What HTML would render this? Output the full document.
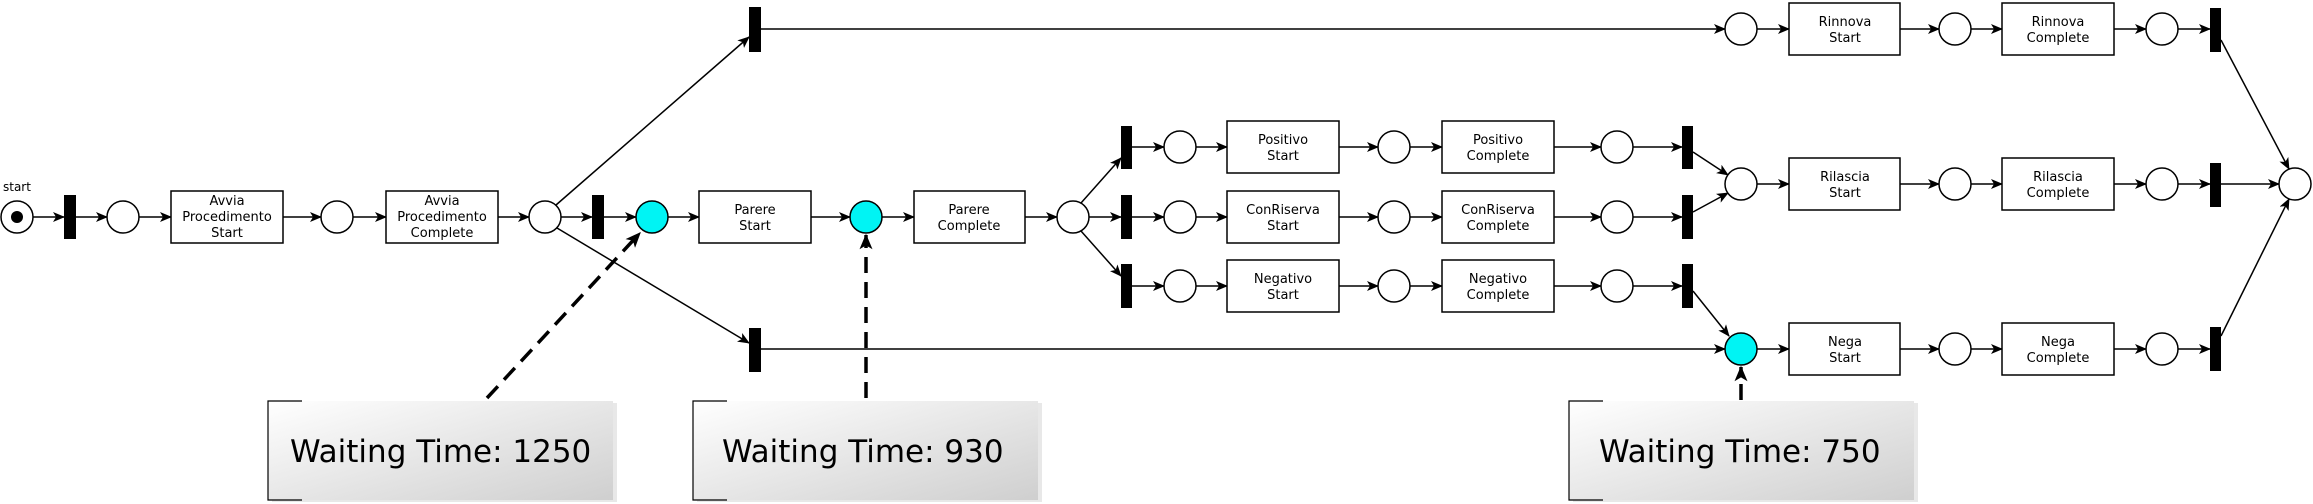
<!DOCTYPE html>
<html><head><meta charset="utf-8"><style>
html,body{margin:0;padding:0;background:#fff;}
svg{display:block;}
text{font-family:"DejaVu Sans","Liberation Sans",sans-serif;}
.b text{font-size:13px;text-anchor:middle;}
</style></head><body>
<svg width="2313" height="504" viewBox="0 0 2313 504" xmlns="http://www.w3.org/2000/svg">
<defs>
<marker id="a" viewBox="0 0 12 10" refX="11" refY="5" markerWidth="12" markerHeight="10" markerUnits="userSpaceOnUse" orient="auto">
<path d="M0,0 L12,5 L0,10 L3,5 Z" fill="#000"/></marker>
<marker id="a2" viewBox="0 0 12 10" refX="11" refY="5" markerWidth="16" markerHeight="13" markerUnits="userSpaceOnUse" orient="auto">
<path d="M0,0 L12,5 L0,10 L3,5 Z" fill="#000"/></marker>
<linearGradient id="g" x1="0" y1="0" x2="1" y2="1">
<stop offset="0" stop-color="#ffffff"/><stop offset="1" stop-color="#cfcfcf"/></linearGradient>
</defs>
<g stroke="#000" stroke-width="1.5" fill="none" marker-end="url(#a)">
<!-- main row -->
<line x1="33" y1="217" x2="64" y2="217"/>
<line x1="76" y1="217" x2="107" y2="217"/>
<line x1="139" y1="217" x2="171" y2="217"/>
<line x1="283" y1="217" x2="321" y2="217"/>
<line x1="353" y1="217" x2="386" y2="217"/>
<line x1="498" y1="217" x2="529" y2="217"/>
<line x1="561" y1="217" x2="592" y2="217"/>
<line x1="604" y1="217" x2="636" y2="217"/>
<line x1="668" y1="217" x2="699" y2="217"/>
<line x1="811" y1="217" x2="850" y2="217"/>
<line x1="882" y1="217" x2="914" y2="217"/>
<line x1="1025" y1="217" x2="1057" y2="217"/>
<!-- branches -->
<line x1="556" y1="205" x2="749" y2="37"/>
<line x1="557" y1="228" x2="749" y2="343"/>
<line x1="1081" y1="203" x2="1121" y2="158"/>
<line x1="1089" y1="217" x2="1121" y2="217"/>
<line x1="1081" y1="231" x2="1121" y2="276"/>
<line x1="761" y1="29" x2="1725" y2="29"/>
<line x1="761" y1="349" x2="1725" y2="349"/>
</g>
<g stroke="#000" stroke-width="1.5" fill="none" marker-end="url(#a)">
<!-- three rows -->
<line x1="1132" y1="147" x2="1164" y2="147"/><line x1="1196" y1="147" x2="1227" y2="147"/><line x1="1339" y1="147" x2="1378" y2="147"/><line x1="1410" y1="147" x2="1442" y2="147"/><line x1="1554" y1="147" x2="1601" y2="147"/><line x1="1633" y1="147" x2="1682" y2="147"/>
<line x1="1132" y1="217" x2="1164" y2="217"/><line x1="1196" y1="217" x2="1227" y2="217"/><line x1="1339" y1="217" x2="1378" y2="217"/><line x1="1410" y1="217" x2="1442" y2="217"/><line x1="1554" y1="217" x2="1601" y2="217"/><line x1="1633" y1="217" x2="1682" y2="217"/>
<line x1="1132" y1="286" x2="1164" y2="286"/><line x1="1196" y1="286" x2="1227" y2="286"/><line x1="1339" y1="286" x2="1378" y2="286"/><line x1="1410" y1="286" x2="1442" y2="286"/><line x1="1554" y1="286" x2="1601" y2="286"/><line x1="1633" y1="286" x2="1682" y2="286"/>
<line x1="1693" y1="152" x2="1728" y2="175"/>
<line x1="1693" y1="212" x2="1728" y2="193"/>
<line x1="1693" y1="291" x2="1729" y2="336"/>
<!-- right rows -->
<line x1="1757" y1="29" x2="1789" y2="29"/><line x1="1900" y1="29" x2="1939" y2="29"/><line x1="1971" y1="29" x2="2002" y2="29"/><line x1="2114" y1="29" x2="2146" y2="29"/><line x1="2178" y1="29" x2="2210" y2="29"/>
<line x1="1757" y1="184" x2="1789" y2="184"/><line x1="1900" y1="184" x2="1939" y2="184"/><line x1="1971" y1="184" x2="2002" y2="184"/><line x1="2114" y1="184" x2="2146" y2="184"/><line x1="2178" y1="184" x2="2210" y2="184"/>
<line x1="1757" y1="349" x2="1789" y2="349"/><line x1="1900" y1="349" x2="1939" y2="349"/><line x1="1971" y1="349" x2="2002" y2="349"/><line x1="2114" y1="349" x2="2146" y2="349"/><line x1="2178" y1="349" x2="2210" y2="349"/>
<line x1="2221" y1="40" x2="2289" y2="169"/>
<line x1="2221" y1="184" x2="2279" y2="184"/>
<line x1="2221" y1="336" x2="2289" y2="199"/>
</g>
<!-- dashed arrows -->
<g stroke="#000" stroke-width="3.5" fill="none" stroke-dasharray="16,9" marker-end="url(#a2)">
<line x1="487" y1="398" x2="640" y2="233"/>
<line x1="866" y1="398" x2="866" y2="235"/>
<line x1="1741" y1="400" x2="1741" y2="367"/>
</g>
<!-- places -->
<g stroke="#000" stroke-width="1.5" fill="#fff">
<circle cx="17" cy="217" r="16"/>
<circle cx="123" cy="217" r="16"/><circle cx="337" cy="217" r="16"/><circle cx="545" cy="217" r="16"/>
<circle cx="1073" cy="217" r="16"/>
<circle cx="1180" cy="147" r="16"/><circle cx="1180" cy="217" r="16"/><circle cx="1180" cy="286" r="16"/>
<circle cx="1394" cy="147" r="16"/><circle cx="1394" cy="217" r="16"/><circle cx="1394" cy="286" r="16"/>
<circle cx="1617" cy="147" r="16"/><circle cx="1617" cy="217" r="16"/><circle cx="1617" cy="286" r="16"/>
<circle cx="1741" cy="29" r="16"/><circle cx="1955" cy="29" r="16"/><circle cx="2162" cy="29" r="16"/>
<circle cx="1741" cy="184" r="16"/><circle cx="1955" cy="184" r="16"/><circle cx="2162" cy="184" r="16"/>
<circle cx="1955" cy="349" r="16"/><circle cx="2162" cy="349" r="16"/>
<circle cx="2295" cy="184" r="16"/>
</g>
<g stroke="#000" stroke-width="1.5" fill="#00f4f4">
<circle cx="652" cy="217" r="16"/><circle cx="866" cy="217" r="16"/><circle cx="1741" cy="349" r="16"/>
</g>
<circle cx="17" cy="217" r="6" fill="#000"/>
<text x="3" y="191" font-size="12">start</text>
<!-- transitions -->
<g fill="#000">
<rect x="64" y="195" width="12" height="44"/>
<rect x="592" y="195" width="12" height="44"/>
<rect x="749" y="7" width="12" height="45"/>
<rect x="749" y="328" width="12" height="44"/>
<rect x="1121" y="126" width="11" height="43"/>
<rect x="1121" y="195" width="11" height="44"/>
<rect x="1121" y="264" width="11" height="44"/>
<rect x="1682" y="126" width="11" height="43"/>
<rect x="1682" y="195" width="11" height="44"/>
<rect x="1682" y="264" width="11" height="44"/>
<rect x="2210" y="8" width="11" height="44"/>
<rect x="2210" y="163" width="11" height="44"/>
<rect x="2210" y="327" width="11" height="44"/>
</g>
<!-- boxes -->
<g class="b">
<g stroke="#000" stroke-width="1.5" fill="#fff">
<rect x="171" y="191" width="112" height="52"/>
<rect x="386" y="191" width="112" height="52"/>
<rect x="699" y="191" width="112" height="52"/>
<rect x="914" y="191" width="111" height="52"/>
<rect x="1227" y="121" width="112" height="52"/>
<rect x="1442" y="121" width="112" height="52"/>
<rect x="1227" y="191" width="112" height="52"/>
<rect x="1442" y="191" width="112" height="52"/>
<rect x="1227" y="260" width="112" height="52"/>
<rect x="1442" y="260" width="112" height="52"/>
<rect x="1789" y="3" width="111" height="52"/>
<rect x="2002" y="3" width="112" height="52"/>
<rect x="1789" y="158" width="111" height="52"/>
<rect x="2002" y="158" width="112" height="52"/>
<rect x="1789" y="323" width="111" height="52"/>
<rect x="2002" y="323" width="112" height="52"/>
</g>
<text x="227" y="205">Avvia</text><text x="227" y="221">Procedimento</text><text x="227" y="237">Start</text>
<text x="442" y="205">Avvia</text><text x="442" y="221">Procedimento</text><text x="442" y="237">Complete</text>
<text x="755" y="214">Parere</text><text x="755" y="230">Start</text>
<text x="969" y="214">Parere</text><text x="969" y="230">Complete</text>
<text x="1283" y="144">Positivo</text><text x="1283" y="160">Start</text>
<text x="1498" y="144">Positivo</text><text x="1498" y="160">Complete</text>
<text x="1283" y="214">ConRiserva</text><text x="1283" y="230">Start</text>
<text x="1498" y="214">ConRiserva</text><text x="1498" y="230">Complete</text>
<text x="1283" y="283">Negativo</text><text x="1283" y="299">Start</text>
<text x="1498" y="283">Negativo</text><text x="1498" y="299">Complete</text>
<text x="1845" y="26">Rinnova</text><text x="1845" y="42">Start</text>
<text x="2058" y="26">Rinnova</text><text x="2058" y="42">Complete</text>
<text x="1845" y="181">Rilascia</text><text x="1845" y="197">Start</text>
<text x="2058" y="181">Rilascia</text><text x="2058" y="197">Complete</text>
<text x="1845" y="346">Nega</text><text x="1845" y="362">Start</text>
<text x="2058" y="346">Nega</text><text x="2058" y="362">Complete</text>
</g>
<!-- waiting boxes -->
<g>
<rect x="270" y="401" width="345" height="99" fill="#d8d8d8" opacity="0.6" transform="translate(2,2)"/>
<rect x="268" y="401" width="345" height="99" fill="url(#g)"/>
<path d="M302,401 H268 V500 H302" stroke="#000" stroke-width="1.2" fill="none"/>
<text x="290" y="462" font-size="31">Waiting Time: 1250</text>
<rect x="695" y="401" width="345" height="99" fill="#d8d8d8" opacity="0.6" transform="translate(2,2)"/>
<rect x="693" y="401" width="345" height="99" fill="url(#g)"/>
<path d="M727,401 H693 V500 H727" stroke="#000" stroke-width="1.2" fill="none"/>
<text x="722" y="462" font-size="31">Waiting Time: 930</text>
<rect x="1571" y="401" width="345" height="99" fill="#d8d8d8" opacity="0.6" transform="translate(2,2)"/>
<rect x="1569" y="401" width="345" height="99" fill="url(#g)"/>
<path d="M1603,401 H1569 V500 H1603" stroke="#000" stroke-width="1.2" fill="none"/>
<text x="1599" y="462" font-size="31">Waiting Time: 750</text>
</g>
</svg>
</body></html>
